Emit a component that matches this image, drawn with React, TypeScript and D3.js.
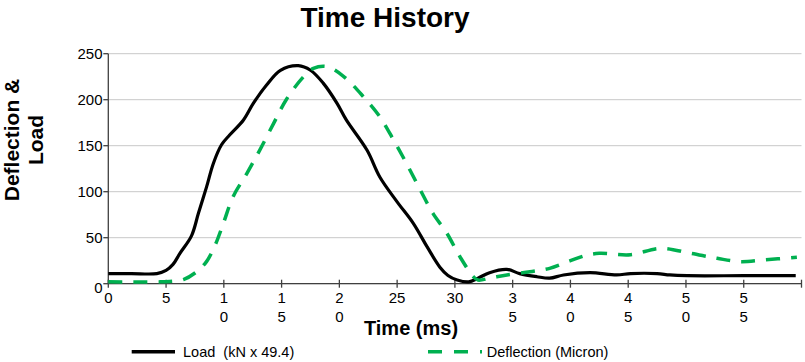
import React from "react";
import * as d3 from "d3";

const loadTime = [0, 2, 4.2, 5.0, 5.6, 6.2, 7.2, 7.8, 8.5, 9.1, 9.8, 10.5, 11.7, 12.55, 13.7, 14.9, 16.45, 17.5, 18.6, 19.8, 20.6, 22.4, 23.5, 25.0, 26.4, 27.6, 28.7, 29.4, 30.2, 31.2, 32.0, 33.0, 34.5, 35.6, 37.1, 38.2, 39.4, 41.7, 44.0, 45.2, 47.5, 48.6, 50.1, 55, 59.5];
const loadVal = [11, 11, 11, 14.5, 21, 33, 52, 76.5, 105, 131, 151, 161.6, 178, 196, 216, 232, 237, 232, 218, 196, 178, 145, 116, 89, 65.6, 40, 18, 9, 4, 2, 6, 12, 15.6, 11, 7.6, 6, 9.5, 12, 9.5, 11, 11, 9.5, 8.7, 8.7, 8.7];

const defTime = [0, 4.5, 5.3, 6.5, 7.65, 8.5, 9.25, 9.96, 10.8, 12.0, 13.1, 14.3, 15.4, 16.9, 17.75, 18.9, 20.3, 22.1, 23.5, 24.7, 25.8, 27.0, 28.1, 29.3, 30.45, 31.6, 32.0, 33.0, 34.5, 36.5, 38.2, 40.0, 41.4, 42.5, 45.2, 47.8, 50.4, 52.7, 54.7, 56.7, 59.6];
const defVal = [2, 2, 2.5, 4.5, 13, 24, 42, 65.6, 94.6, 120, 145, 174, 200, 225, 234, 236, 226, 203, 181.5, 156, 131, 102, 76.5, 55, 29, 7.6, 4, 6, 9.5, 13, 16.7, 25, 31, 33, 31.5, 38.5, 33, 27.6, 24, 25.8, 28.7];

const xTicks = [0, 5, 10, 15, 20, 25, 30, 35, 40, 45, 50, 55, 60];
const xTickLabels = ["0", "5", "1\n0", "1\n5", "2\n0", "25", "30", "3\n5", "4\n0", "4\n5", "5\n0", "5\n5", ""];
const yTicks = [0, 50, 100, 150, 200, 250];

const seriesNames = ["Load  (kN x 49.4)", "Deflection (Micron)"];

const FONT = "'Liberation Sans', Arial, sans-serif";
const GREEN = "#00b050";

export default function App() {
  const x = d3.scaleLinear().domain([0, 60]).range([108.3, 801.5]);
  const y = d3.scaleLinear().domain([0, 250]).range([283.7, 53.7]);
  const line = d3
    .line<[number, number]>()
    .x((d) => x(d[0]))
    .y((d) => y(d[1]))
    .curve(d3.curveCatmullRom.alpha(0.5));
  const loadData: [number, number][] = loadTime.map((t, i) => [t, loadVal[i]]);
  const defData: [number, number][] = defTime.map((t, i) => [t, defVal[i]]);

  return (
    <svg
      width={805}
      height={362}
      style={{ position: "absolute", left: 0, top: 0, background: "#fff" }}
      fontFamily={FONT}
    >
      <text x={385} y={27} textAnchor="middle" fontSize={28} fontWeight="bold">
        Time History
      </text>

      {yTicks.map((t) => (
        <line key={"g" + t} x1={x(0)} x2={x(60)} y1={y(t)} y2={y(t)} stroke="#c8c8c8" strokeWidth={1} />
      ))}

      {/* y axis */}
      <line x1={x(0)} x2={x(0)} y1={y(0)} y2={y(250)} stroke="#404040" strokeWidth={1.3} />
      {yTicks.map((t) => (
        <g key={"yt" + t}>
          <line x1={x(0) - 5} x2={x(0)} y1={y(t)} y2={y(t)} stroke="#404040" strokeWidth={1.3} />
          <text x={102.5} y={y(t) + (t === 0 ? 9 : 5.5)} textAnchor="end" fontSize={15} fill="#000">
            {t}
          </text>
        </g>
      ))}

      {/* x axis */}
      <line x1={x(0)} x2={x(60)} y1={y(0)} y2={y(0)} stroke="#404040" strokeWidth={1.3} />
      {xTicks.map((t, i) => (
        <g key={"xt" + t}>
          <line x1={x(t)} x2={x(t)} y1={y(0) - 4} y2={y(0) + 4} stroke="#404040" strokeWidth={1.3} />
          {xTickLabels[i].split("\n").map((s, j) => (
            <text key={j} x={x(t)} y={303 + j * 19} textAnchor="middle" fontSize={15} fill="#000">
              {s}
            </text>
          ))}
        </g>
      ))}

      <path d={line(loadData) || ""} fill="none" stroke="#000" strokeWidth={3.2} strokeLinejoin="round" />
      <path d={line(defData) || ""} fill="none" stroke={GREEN} strokeWidth={3.5} strokeDasharray="14,11" />

      <text x={411} y={335} textAnchor="middle" fontSize={20} fontWeight="bold">
        Time (ms)
      </text>

      <g transform="translate(18.5,140) rotate(-90)">
        <text x={0} y={0} textAnchor="middle" fontSize={21} fontWeight="bold">
          Deflection &amp;
        </text>
        <text x={0} y={24.5} textAnchor="middle" fontSize={21} fontWeight="bold">
          Load
        </text>
      </g>

      {/* legend */}
      <line x1={131.7} x2={175} y1={351.7} y2={351.7} stroke="#000" strokeWidth={3.5} />
      <text x={183} y={357} fontSize={14.5} style={{ whiteSpace: "pre" }} xmlSpace="preserve">
        {seriesNames[0]}
      </text>
      <line x1={428} x2={482} y1={351.7} y2={351.7} stroke={GREEN} strokeWidth={3.5} strokeDasharray="14,12" />
      <text x={486.7} y={357} fontSize={14.5}>
        {seriesNames[1]}
      </text>
    </svg>
  );
}
